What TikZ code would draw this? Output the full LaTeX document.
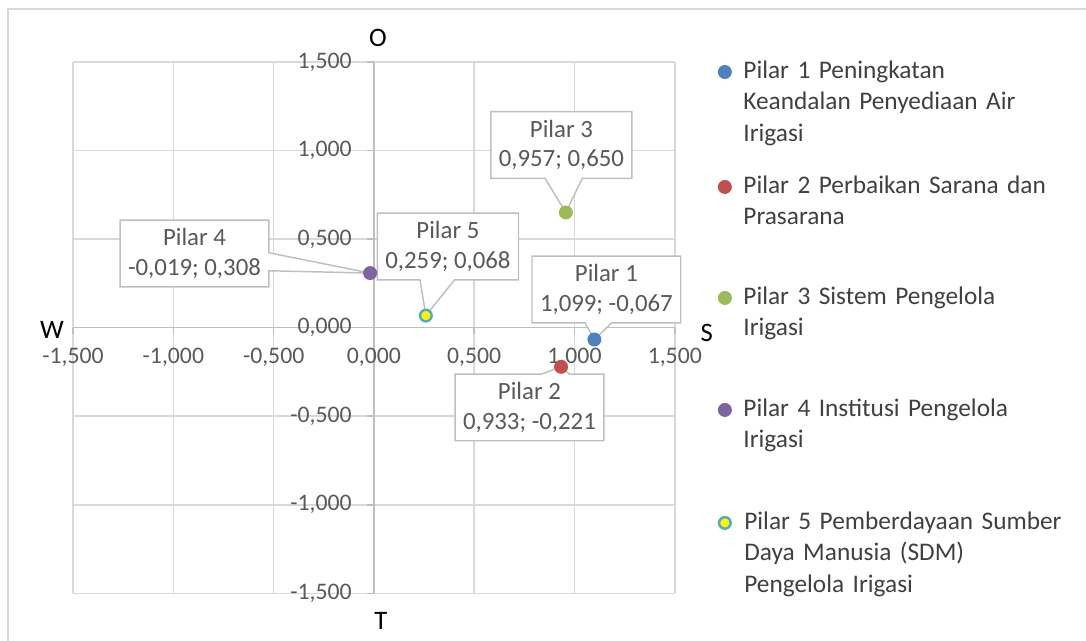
\documentclass[tikz,border=0pt]{standalone}
\usepackage{fontspec}
\setmainfont{Carlito}
\usetikzlibrary{positioning, shapes.callouts}

\definecolor{pilarA}{HTML}{4F81BD}
\definecolor{pilarB}{HTML}{C0504D}
\definecolor{pilarC}{HTML}{9BBB59}
\definecolor{pilarD}{HTML}{8064A2}
\definecolor{pilarE}{HTML}{4BACC6}
\definecolor{gridgray}{HTML}{D9D9D9}
\definecolor{axisgray}{HTML}{BFBFBF}
\definecolor{lblgray}{HTML}{595959}
\definecolor{legblack}{HTML}{404040}

\begin{document}
\begin{tikzpicture}[
    x=150.45pt, y=132.9pt,
    grid/.style={draw=gridgray, line width=1.1pt},
    axisline/.style={draw=axisgray, line width=1.1pt},
    ticklbl/.style={text=lblgray, inner sep=0pt, font=\fontsize{17.8}{21}\selectfont},
    dirlbl/.style={text=black, inner sep=0pt, font=\fontsize{20}{24}\selectfont},
    dot/.style={circle, minimum size=10.5pt, inner sep=0pt},
    lbl/.style={rectangle callout, draw=axisgray, line width=1.1pt, fill=white,
      text=lblgray, align=center, minimum height=50pt, inner xsep=6pt,
      font=\fontsize{18.6}{22.5}\selectfont},
    legtext/.style={text=legblack, text width=270pt, align=left, inner sep=0pt,
      font=\fontsize{19}{23.6}\selectfont}
  ]
  \useasboundingbox (-1.8644,-1.7681) rectangle (3.5503,1.8493);
  % chart frame, cut by the page
  \draw[gridgray, line width=1.1pt] (3.5503,1.7985) -| (-1.8245,-1.7681);

  % grid and axes
  \foreach \v in {-1.5,-1,...,1.5} {
    \draw[grid] (\v,-1.5) -- (\v,1.5);
    \draw[grid] (-1.5,\v) -- (1.5,\v);
  }
  \draw[axisline] (0,-1.5) -- (0,1.5);
  \draw[axisline] (-1.5,0) -- (1.5,0);
  \foreach \v/\t in {-1.5/{-1,500}, -1/{-1,000}, -0.5/{-0,500}, 0/{0,000},
                     0.5/{0,500}, 1/{1,000}, 1.5/{1,500}} {
    \draw[axisline] (0,\v) -- ++(-5pt,0);
    \draw[axisline] (\v,0) -- ++(0,-5pt);
    \node[ticklbl, anchor=east] at ([xshift=-16.5pt]0,\v) {\t};
    \node[ticklbl] at ([yshift=-22.5pt]\v,0) {\t};
  }

  % quadrant letters
  \node[dirlbl] (north) at (0.0199,1.6351) {O};
  \node[dirlbl] (west) at (-1.6052,-0.013) {W};
  \node[dirlbl] (east) at (1.660,-0.030) {S};
  \node[dirlbl] (south) at (0.0349,-1.6552) {T};

  % data
  \coordinate (c1) at (1.099,-0.067);
  \coordinate (c2) at (0.933,-0.221);
  \coordinate (c3) at (0.957,0.650);
  \coordinate (c4) at (-0.019,0.308);
  \coordinate (c5) at (0.259,0.068);

  \node[lbl, callout absolute pointer={(c1)}, callout pointer width=20pt] (l1)
    at (1.159,0.2156) {Pilar 1\\1,099; -0,067};
  \node[lbl, callout absolute pointer={(c2)}, callout pointer width=21pt] (l2)
    at (0.7752,-0.4503) {Pilar 2\\0,933; -0,221};
  \node[lbl, callout absolute pointer={(c3)}, callout pointer width=28pt] (l3)
    at (0.9347,1.031) {Pilar 3\\0,957; 0,650};
  \node[lbl, callout absolute pointer={(c4)}, callout pointer width=13.5pt] (l4)
    at (-0.8948,0.4187) {Pilar 4\\-0,019; 0,308};
  \node[lbl, callout absolute pointer={(c5)}, callout pointer width=26pt] (l5)
    at (0.3689,0.4582) {Pilar 5\\0,259; 0,068};

  \node[dot, fill=pilarA] (p1) at (c1) {};
  \node[dot, fill=pilarB] (p2) at (c2) {};
  \node[dot, fill=pilarC] (p3) at (c3) {};
  \node[dot, fill=pilarD] (p4) at (c4) {};
  \node[dot, fill=yellow, draw=pilarE, line width=1.8pt, minimum size=8.7pt] (p5) at (c5) {};

  % legend
  \node[dot, fill=pilarA] (m1) at (1.7498,1.4430) {};
  \node[dot, fill=pilarB] (m2) at (1.7498,0.7940) {};
  \node[dot, fill=pilarC] (m3) at (1.7498,0.1676) {};
  \node[dot, fill=pilarD] (m4) at (1.7498,-0.4645) {};
  \node[dot, fill=yellow, draw=pilarE, line width=1.8pt, minimum size=8.7pt] (m5) at (1.7498,-1.1021) {};

  \node[legtext, right=8.25pt of m1, anchor=base west, yshift=-4.9pt] (t1)
    {Pilar 1 Peningkatan\\Keandalan Penyediaan Air\\Irigasi};
  \node[legtext, right=8.25pt of m2, anchor=base west, yshift=-4.9pt] (t2)
    {Pilar 2 Perbaikan Sarana dan\\Prasarana};
  \node[legtext, right=8.25pt of m3, anchor=base west, yshift=-4.9pt] (t3)
    {Pilar 3 Sistem Pengelola\\Irigasi};
  \node[legtext, right=8.25pt of m4, anchor=base west, yshift=-4.9pt] (t4)
    {Pilar 4 Institusi Pengelola\\Irigasi};
  \node[legtext, right=9.15pt of m5, anchor=base west, yshift=-4.9pt] (t5)
    {Pilar 5 Pemberdayaan Sumber\\Daya Manusia (SDM)\\Pengelola Irigasi};
\end{tikzpicture}
\end{document}
